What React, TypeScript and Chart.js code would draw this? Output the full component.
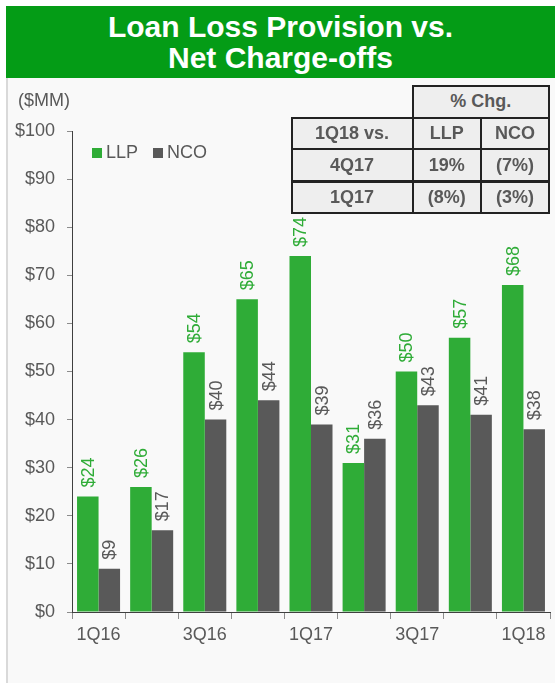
import React, { useEffect, useRef } from "react";
import { Chart, registerables } from "chart.js";

Chart.register(...registerables);

const categories = ["1Q16", "2Q16", "3Q16", "4Q16", "1Q17", "2Q17", "3Q17", "4Q17", "1Q18"];
const llpValues = [24, 26, 54, 65, 74, 31, 50, 57, 68];
const ncoValues = [9, 17, 40, 44, 39, 36, 43, 41, 38];
const seriesNames = ["LLP", "NCO"];
const titleLines = ["Loan Loss Provision vs.", "Net Charge-offs"];
const unitLabel = "($MM)";
const tableHeader = "% Chg.";
const tableRows = [
  ["1Q18 vs.", "LLP", "NCO"],
  ["4Q17", "19%", "(7%)"],
  ["1Q17", "(8%)", "(3%)"],
];

const GREEN = "#2fac37";
const GRAY = "#595959";
const TEXT = "#595959";
const FONT = "'Liberation Sans', Arial, sans-serif";

const labelPlugin = {
  id: "barLabels",
  afterDatasetsDraw(chart: any) {
    const ctx = chart.ctx;
    chart.data.datasets.forEach((ds: any, di: number) => {
      const meta = chart.getDatasetMeta(di);
      meta.data.forEach((bar: any, i: number) => {
        const v = ds.data[i];
        ctx.save();
        ctx.translate(bar.x, bar.y - 9);
        ctx.rotate(-Math.PI / 2);
        ctx.font = `18px ${FONT}`;
        ctx.fillStyle = di === 0 ? GREEN : TEXT;
        ctx.textAlign = "left";
        ctx.textBaseline = "middle";
        ctx.fillText("$" + v, 0, 1);
        ctx.restore();
      });
    });
  },
};

export default function App() {
  const ref = useRef<HTMLCanvasElement>(null);
  useEffect(() => {
    if (!ref.current) return;
    const chart = new Chart(ref.current, {
      type: "bar",
      data: {
        labels: categories,
        datasets: [
          { label: seriesNames[0], data: llpValues, backgroundColor: GREEN, categoryPercentage: 0.81, barPercentage: 1 },
          { label: seriesNames[1], data: ncoValues, backgroundColor: GRAY, categoryPercentage: 0.81, barPercentage: 1 },
        ],
      },
      options: {
        responsive: false,
        animation: false,
        devicePixelRatio: 1,
        layout: { padding: { left: 0, right: 5, top: 131, bottom: 0 } },
        plugins: { legend: { display: false }, tooltip: { enabled: false }, title: { display: false } },
        scales: {
          x: {
            offset: true,
            afterFit: (s: any) => { s.height = 71; },
            border: { color: "#404040", width: 1 },
            grid: { display: true, drawOnChartArea: false, offset: true, tickLength: 7, color: "#8c8c8c" },
            ticks: {
              autoSkip: false,
              maxRotation: 0,
              padding: 5,
              color: TEXT,
              font: { family: FONT, size: 18 },
              callback: (_v: any, i: number) => (i % 2 === 0 ? categories[i] : ""),
            },
          },
          y: {
            min: 0,
            max: 100,
            afterFit: (s: any) => { s.width = 72; },
            border: { color: "#404040", width: 1 },
            grid: { display: true, drawOnChartArea: false, tickLength: 5, color: "#8c8c8c" },
            ticks: {
              stepSize: 10,
              padding: 12,
              color: TEXT,
              font: { family: FONT, size: 18 },
              callback: (v: any) => "$" + v,
            },
          },
        },
      },
      plugins: [labelPlugin],
    });
    return () => chart.destroy();
  }, []);

  const colX = [291.5, 412.5, 481, 549];
  const rowY = [117.5, 149.3, 181.5, 213.3];
  const cellStyle = (l: number, t: number, w: number, h: number): React.CSSProperties => ({
    position: "absolute",
    left: l - 1,
    top: t - 1,
    width: w + 2,
    height: h + 2,
    boxSizing: "border-box",
    border: "2px solid #222",
    background: "#eeeeee",
    display: "flex",
    alignItems: "center",
    justifyContent: "center",
    font: `bold 18px ${FONT}`,
    color: TEXT,
  });

  return (
    <div style={{ position: "absolute", left: 0, top: 0, width: 555, height: 683, background: "#fff", overflow: "hidden", fontFamily: FONT }}>
      <div style={{ position: "absolute", left: 6, top: 78, width: 549, height: 605, background: "#f9f9f9", borderLeft: "2px solid #d9d9d9", boxSizing: "border-box" }} />
      <div style={{ position: "absolute", left: 6, top: 6, width: 549, height: 72, background: "#049c16", color: "#fff", font: `bold 30px ${FONT}`, lineHeight: "31px", textAlign: "center", display: "flex", flexDirection: "column", justifyContent: "center" }}>
        <div>{titleLines[0]}</div>
        <div>{titleLines[1]}</div>
      </div>
      <canvas ref={ref} width={555} height={683} style={{ position: "absolute", left: 0, top: 0, width: 555, height: 683 }} />
      <div style={{ position: "absolute", left: 18, top: 89, font: `18px ${FONT}`, color: TEXT, lineHeight: "22px" }}>{unitLabel}</div>
      <div style={{ position: "absolute", left: 92, top: 148, width: 10, height: 10, background: GREEN }} />
      <div style={{ position: "absolute", left: 106, top: 141, font: `18px ${FONT}`, color: TEXT, lineHeight: "22px" }}>{seriesNames[0]}</div>
      <div style={{ position: "absolute", left: 153, top: 148, width: 10, height: 10, background: GRAY }} />
      <div style={{ position: "absolute", left: 167, top: 141, font: `18px ${FONT}`, color: TEXT, lineHeight: "22px" }}>{seriesNames[1]}</div>
      <div style={cellStyle(colX[1], 86, colX[3] - colX[1], rowY[0] - 86)}>{tableHeader}</div>
      {tableRows.map((row, r) =>
        row.map((txt, c) => (
          <div key={r + "-" + c} style={cellStyle(colX[c], rowY[r], colX[c + 1] - colX[c], rowY[r + 1] - rowY[r])}>{txt}</div>
        ))
      )}
    </div>
  );
}
